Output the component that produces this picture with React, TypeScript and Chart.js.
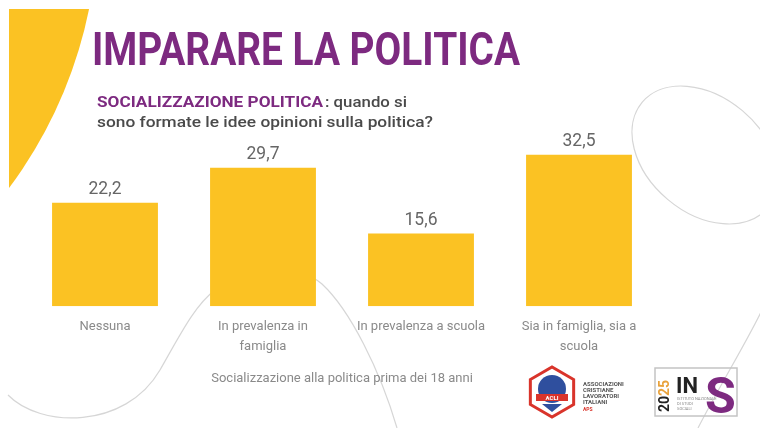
import React, { useEffect, useRef } from "react";
import { Chart, registerables } from "chart.js";

Chart.register(...registerables);

const categories: string[][] = [
  ["Nessuna"],
  ["In prevalenza in", "famiglia"],
  ["In prevalenza a scuola"],
  ["Sia in famiglia, sia a", "scuola"],
];
const values: number[] = [22.2, 29.7, 15.6, 32.5];
const titleText = "IMPARARE LA POLITICA";
const subtitleBold = "SOCIALIZZAZIONE POLITICA";
const subtitleRest1 = ": quando si";
const subtitleLine2 = "sono formate le idee opinioni sulla politica?";
const axisTitle = "Socializzazione alla politica prima dei 18 anni";

const YELLOW = "#fbc223";
const PURPLE = "#7d2a80";

function fitText(ctx: CanvasRenderingContext2D, text: string, x: number, y: number, width: number) {
  const w = ctx.measureText(text).width;
  ctx.save();
  ctx.translate(x, y);
  ctx.scale(width / w, 1);
  ctx.fillText(text, 0, 0);
  ctx.restore();
}

const decorPlugin = {
  id: "decor",
  beforeDraw(chart: any) {
    const ctx: CanvasRenderingContext2D = chart.ctx;
    const W = chart.width, H = chart.height;
    ctx.save();
    ctx.fillStyle = "#ffffff";
    ctx.fillRect(0, 0, W, H);

    // yellow arc top-left
    ctx.save();
    ctx.beginPath();
    ctx.rect(9, 9, W, H);
    ctx.clip();
    ctx.beginPath();
    ctx.arc(-350, -80, 448, 0, Math.PI * 2);
    ctx.fillStyle = YELLOW;
    ctx.fill();
    ctx.restore();

    // faint decorative lines
    ctx.strokeStyle = "#d6d6d6";
    ctx.lineWidth = 1.2;
    ctx.beginPath();
    ctx.ellipse(705, 155, 82, 58, 0.7, 0, Math.PI * 2);
    ctx.stroke();
    ctx.beginPath();
    ctx.moveTo(8, 395);
    ctx.bezierCurveTo(40, 428, 125, 430, 160, 370);
    ctx.bezierCurveTo(180, 335, 195, 305, 215, 290);
    ctx.bezierCurveTo(250, 265, 300, 265, 322, 284);
    ctx.bezierCurveTo(350, 310, 380, 370, 397, 428);
    ctx.stroke();
    ctx.beginPath();
    ctx.moveTo(762, 310);
    ctx.bezierCurveTo(745, 345, 720, 385, 698, 428);
    ctx.stroke();

    // title
    ctx.fillStyle = PURPLE;
    ctx.textBaseline = "alphabetic";
    ctx.textAlign = "left";
    ctx.font = "bold 46px Roboto";
    fitText(ctx, titleText, 92, 65, 428);

    // subtitle
    ctx.font = "bold 15px Roboto";
    ctx.fillStyle = PURPLE;
    fitText(ctx, subtitleBold, 97, 107, 226);
    ctx.fillStyle = "#4a4a4a";
    ctx.font = "500 15px Roboto";
    fitText(ctx, subtitleRest1, 325, 107, 82);
    fitText(ctx, subtitleLine2, 97, 127, 336);

    // ACLI logo
    const cx = 552, cy = 392, r = 25;
    ctx.beginPath();
    for (let i = 0; i < 6; i++) {
      const a = Math.PI / 6 + (i * Math.PI) / 3;
      const px = cx + r * Math.cos(a), py = cy + r * Math.sin(a);
      if (i === 0) ctx.moveTo(px, py); else ctx.lineTo(px, py);
    }
    ctx.closePath();
    ctx.fillStyle = "#ffffff";
    ctx.fill();
    ctx.strokeStyle = "#d9342b";
    ctx.lineWidth = 3;
    ctx.stroke();
    ctx.beginPath();
    ctx.arc(cx, cy - 3, 14, 0, Math.PI * 2);
    ctx.fillStyle = "#2f4f9e";
    ctx.fill();
    ctx.fillStyle = "#d9342b";
    ctx.fillRect(cx - 16, cy + 2, 32, 7);
    ctx.fillStyle = "#ffffff";
    ctx.font = "bold 6px Roboto";
    ctx.textAlign = "center";
    ctx.fillText("ACLI", cx, cy + 8);
    ctx.fillStyle = "#2f4f9e";
    ctx.beginPath();
    ctx.moveTo(cx - 10, cy + 12);
    ctx.lineTo(cx + 10, cy + 12);
    ctx.lineTo(cx, cy + 20);
    ctx.closePath();
    ctx.fill();

    ctx.textAlign = "left";
    ctx.fillStyle = "#555555";
    ctx.font = "bold 6px Roboto";
    ["ASSOCIAZIONI", "CRISTIANE", "LAVORATORI", "ITALIANI"].forEach((t, i) => {
      ctx.fillText(t, 583, 386 + i * 6);
    });
    ctx.fillStyle = "#d9342b";
    ctx.font = "bold 5px Roboto";
    ctx.fillText("APS", 583, 411);

    // INS logo
    ctx.strokeStyle = "#c4c4c4";
    ctx.lineWidth = 1.5;
    ctx.strokeRect(655, 368, 82, 48);
    ctx.save();
    ctx.translate(669, 412);
    ctx.rotate(-Math.PI / 2);
    ctx.font = "bold 14px Roboto";
    ctx.fillStyle = "#222222";
    ctx.fillText("20", 0, 0);
    const w20 = ctx.measureText("20").width;
    ctx.fillStyle = "#e9a23b";
    ctx.fillText("25", w20, 0);
    ctx.restore();
    ctx.fillStyle = "#222222";
    ctx.font = "bold 22px Roboto";
    ctx.fillText("IN", 676, 393);
    ctx.fillStyle = "#888888";
    ctx.font = "4px Roboto";
    ["ISTITUTO NAZIONALE", "DI STUDI", "SOCIALI"].forEach((t, i) => ctx.fillText(t, 677, 400 + i * 5));
    ctx.fillStyle = PURPLE;
    ctx.font = "bold 50px Roboto";
    ctx.fillText("S", 705, 413);

    ctx.restore();
  },
  afterDatasetsDraw(chart: any) {
    const ctx: CanvasRenderingContext2D = chart.ctx;
    const meta = chart.getDatasetMeta(0);
    ctx.save();
    ctx.fillStyle = "#666666";
    ctx.font = "19px Roboto";
    ctx.textAlign = "center";
    ctx.textBaseline = "alphabetic";
    meta.data.forEach((bar: any, i: number) => {
      const label = values[i].toFixed(1).replace(".", ",");
      ctx.save();
      ctx.translate(bar.x, bar.y - 9);
      ctx.scale(0.92, 1);
      ctx.fillText(label, 0, 0);
      ctx.restore();
    });
    ctx.restore();
  },
};

export default function App() {
  const ref = useRef<HTMLCanvasElement | null>(null);
  useEffect(() => {
    document.body.style.margin = "0";
    const canvas = ref.current!;
    const chart = new Chart(canvas, {
      type: "bar",
      data: {
        labels: categories,
        datasets: [
          {
            data: values,
            backgroundColor: YELLOW,
            borderWidth: 0,
            barPercentage: 0.67,
            categoryPercentage: 1,
          },
        ],
      },
      options: {
        responsive: false,
        animation: false,
        devicePixelRatio: 1,
        layout: { padding: { left: 26, right: 102, top: 143, bottom: 37 } },
        plugins: { legend: { display: false }, tooltip: { enabled: false } },
        scales: {
          y: { display: false, min: 0, max: 35 },
          x: {
            grid: { display: false, drawTicks: false, tickLength: 0 },
            border: { display: false },
            ticks: {
              color: "#8a8a8a",
              font: { family: "Roboto", size: 13, lineHeight: 1.54 },
              padding: 10,
              maxRotation: 0,
              autoSkip: false,
            },
            title: {
              display: true,
              text: axisTitle,
              color: "#8a8a8a",
              font: { family: "Roboto", size: 13, lineHeight: 1.2 },
              padding: { top: 5, bottom: 4 },
            },
          },
        },
      },
      plugins: [decorPlugin],
    });
    return () => chart.destroy();
  }, []);
  return (
    <div style={{ width: 760, height: 428 }}>
      <canvas ref={ref} width={760} height={428} style={{ display: "block" }} />
    </div>
  );
}
